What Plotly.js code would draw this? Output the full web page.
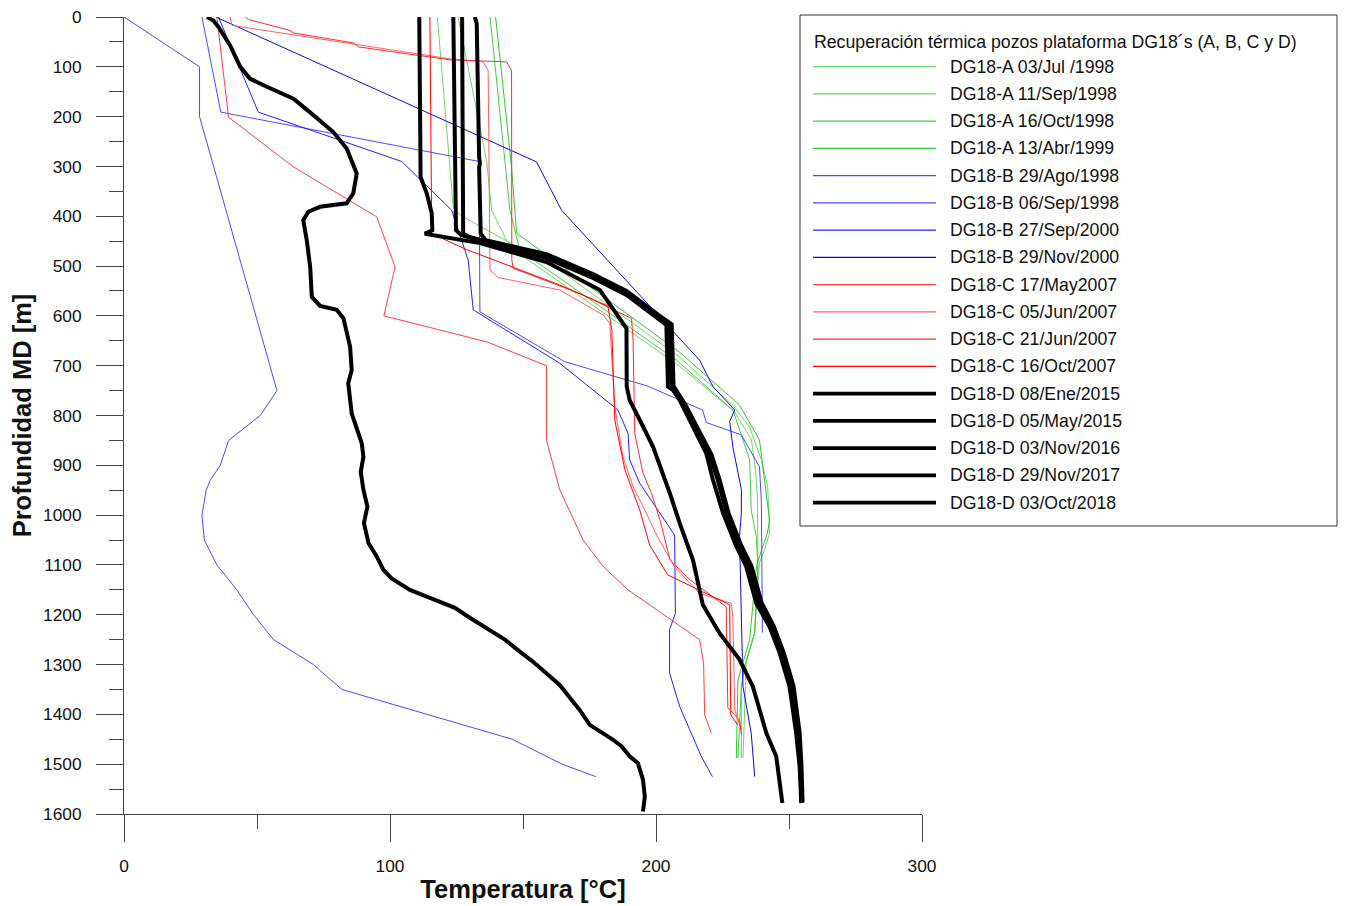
<!DOCTYPE html>
<html>
<head>
<meta charset="utf-8">
<script src="https://cdn.plot.ly/plotly-3.0.1.min.js"></script>
<style>html,body{margin:0;padding:0;background:#fff;}#chart{width:1345px;height:906px;}</style>
</head>
<body>
<div id="chart"></div>
<script>
// ---- Series names ----
const legendTitle = 'Recuperación térmica pozos plataforma DG18´s (A, B, C y D)';
const seriesNames = [
  "DG18-A 03/Jul /1998", "DG18-A 11/Sep/1998", "DG18-A 16/Oct/1998", "DG18-A 13/Abr/1999",
  "DG18-B 29/Ago/1998", "DG18-B 06/Sep/1998", "DG18-B 27/Sep/2000", "DG18-B 29/Nov/2000",
  "DG18-C 17/May2007", "DG18-C 05/Jun/2007", "DG18-C 21/Jun/2007", "DG18-C 16/Oct/2007",
  "DG18-D 08/Ene/2015", "DG18-D 05/May/2015", "DG18-D 03/Nov/2016", "DG18-D 29/Nov/2017", "DG18-D 03/Oct/2018"
];

// ---- DG18-A (temperature °C, depth m) ----
const A1_T = [117.8,123.8,127,163.8,208.9,228.8,235.2,239.6,242,242.7,240.8,238.9,237.1,233.3,232.1,232.1];
const A1_D = [0,384,400,508,683,779,823,889,943,1036,1070,1096,1236,1304,1345,1488];
const A2_T = [125.6,136.3,138.2,145.1,208.9,229.6,235.9,237.4,238.2,238.3,237.1,233.9,232.7];
const A2_D = [0,288,388,462,701,793,849,909,970,1103,1236,1297,1488];
const A3_T = [137.6,145.1,148.8,207.7,228.9,235.2,235.8,237.7,238.3,237.1,233.3,232.1,230.8];
const A3_D = [0,388,468,689,789,889,990,1043,1103,1236,1304,1345,1488];
const A4_T = [139.7,145.7,147.6,208.9,231.4,238.9,242.7,241.9,239.7,237.8,235.2,230.8,230.2];
const A4_D = [0,302,434,673,779,849,1010,1036,1070,1102,1250,1331,1488];

// ---- DG18-B ----
const B1_T = [0,28.4,28.4,57.5,51.2,39.3,36.2,32.4,30.9,29.3,30.2,34.9,42.4,48.7,56.2,71.2,81.9,146,164.7,177.4];
const B1_D = [0,100,200,750,800,850,900,930,950,1000,1050,1100,1150,1200,1250,1300,1350,1450,1500,1525];
const B2_T = [29.3,36.4,133.5,133.8,165.7,196.9,217.5,218.9,232.1,238.9,239.6,240];
const B2_D = [0,191,290,592,692,741,789,814,839,903,970,1236];
const B3_T = [35.5,50.5,104.4,123.2,129.4,131.3,163.8,185.7,189.5,190.1,193.9,197.6,207,207.3,205.1,205.1,208.9,217,221.2];
const B3_D = [0,191,290,388,488,588,695,789,836,889,936,966,1040,1197,1230,1317,1384,1484,1525];
const B4_T = [34.5,155.1,164.5,178.2,205.1,216.4,221.4,229.6,227.7,228.9,232.1,232.1,231.4,232.7,235.8,237.1];
const B4_D = [0,291,388,468,625,689,742,789,812,863,949,996,1043,1344,1438,1525];

// ---- DG18-C ----
const C1_T = [34.9,39.3,63.7,95,101.9,97.7,136.3,158.8,158.8,163.8,172.6,180.1,189.5,216.4,217.9,218.3,220.8];
const C1_D = [0,201,301,401,502,600,652,700,849,949,1050,1103,1150,1250,1297,1401,1438];
const C2_T = [39.9,40.6,72.5,122.5,135,136.9,137.6,140.7,163.8,180.1,182.6,184.5,187.6,191.4,195.8,200.6,207,216.4,228.3,228.9,229.6,232.1];
const C2_D = [0,17,43,84,90,107,508,523,548,598,615,782,883,943,990,1044,1104,1157,1177,1204,1391,1431];
const C3_T = [45.6,46.8,62.4,63.7,86.2,88.1,122.5,143.8,145.7,145.8,146.3,150.1,171.3,190.8,191.4,192,195.1,198.3,201.5,205.3,212.8,226.4,227,231.4,232.1];
const C3_D = [0,5,27,32,52,60,86,90,107,488,505,512,555,605,649,836,916,956,1010,1090,1130,1184,1387,1411,1441];
const C4_T = [115,115.7,128.8,163.8,181.9,183.4,184.5,188.3,193.9,197.6,204.4,223.9,227.7,228.1,230.7];
const C4_D = [0,435,467,538,580,629,809,909,990,1060,1120,1170,1180,1401,1421];

// ---- DG18-D ----
const D1_T = [31.2,33.6,35.5,37.4,39.9,43.7,47.4,53.7,63.7,71.2,78.7,83.7,87.5,86.2,83.7,73.7,69.3,67.4,68.7,70,70.6,73.7,80,82.5,85,85.6,84.3,85.6,89.4,90,89,90,91.5,90.2,91.9,95,97.5,100.6,107.5,115,124.4,130,137.5,143.2,148.8,153.7,159.3,163.8,168.3,171.3,175.1,180.1,183.9,187,190.1,193.2,195.1,195.8,195.1];
const D1_D = [0,7,20,37,57,100,124,140,164,197,231,264,314,354,374,381,391,408,448,502,562,580,588,605,662,709,735,796,856,883,913,949,983,1016,1056,1083,1110,1127,1150,1166,1186,1206,1230,1250,1274,1294,1320,1341,1371,1391,1421,1438,1451,1464,1484,1498,1531,1565,1595];
const D2_T = [111,111.5,113.8,115.7,115.9,113.1,133.8,158.8,178.9,188.9,189,190.1,193.9,198.9,205.2,208.9,213.9,217.6,223.9,231.4,236.4,241.5,245.2,246.5,247.5];
const D2_D = [0,321,354,394,428,435,454,492,548,625,742,769,809,863,956,1016,1090,1180,1237,1290,1344,1438,1484,1531,1578];
const D3_T = [123.8,124.8,126.9,158.8,176.3,188.9,201.4,203.9,204.5,206.4,208.9,213.9,218.9,221.4,225.2,230.2,233.9,237.7,242.7,246.5,250.2,252.7,254,254.6];
const D3_D = [0,428,438,484,524,558,608,618,742,749,769,823,876,929,996,1063,1103,1177,1224,1277,1344,1438,1505,1578];
const D4_T = [127.1,127.5,130,158.8,176.3,188.9,201.4,205.2,205.8,207.4,210.4,215.3,220.2,223.2,226.6,231.4,235.2,238.9,243.4,247.2,251,253.2,254.3,254.7];
const D4_D = [0,435,442,480,520,554,604,618,742,753,779,829,879,929,996,1062,1102,1176,1222,1276,1343,1437,1503,1577];
const D5_T = [131.9,132.6,133.5,133.8,133.5,134.1,136,158.8,176.3,188.9,201.4,205.9,206.6,208.1,211.1,216,220.9,223.9,227.3,232.1,235.9,239.7,244.2,248,251.7,254,254.7,255.1];
const D5_D = [0,13,281,294,301,435,448,476,516,550,600,617,741,753,779,829,879,929,996,1062,1102,1176,1222,1276,1343,1437,1503,1577];

const seriesT = [A1_T,A2_T,A3_T,A4_T,B1_T,B2_T,B3_T,B4_T,C1_T,C2_T,C3_T,C4_T,D1_T,D2_T,D3_T,D4_T,D5_T];
const seriesD = [A1_D,A2_D,A3_D,A4_D,B1_D,B2_D,B3_D,B4_D,C1_D,C2_D,C3_D,C4_D,D1_D,D2_D,D3_D,D4_D,D5_D];
const seriesColors = ['#6ad86a','#6ad86a','#44cc44','#33c433','#4a4aff','#4a4aff','#2020ff','#0a0ae0',
  '#ff4040','#ff6060','#ff2a2a','#ff0000','#000000','#000000','#000000','#000000','#000000'];
const seriesWidths = [1,1,1,1,1,1,1,1,1,1,1,1,4,4,4,4,4];

const FONT = 'Liberation Sans, Arial, sans-serif';
const traces = seriesNames.map((n,i)=>({
  type:'scatter', mode:'lines', name:n, x:seriesT[i], y:seriesD[i],
  line:{color:seriesColors[i], width:seriesWidths[i]}, hoverinfo:'skip', showlegend:false
}));

// ---- legend drawn as layout shapes / annotations (plot area: x 124..922 px, y 17..814 px) ----
const PL = 124, PW = 798, PB = 814, PH = 797;
const px = v => (v - PL) / PW;
const py = v => (PB - v) / PH;
const shapes = [{type:'rect', xref:'paper', yref:'paper', x0:px(800), x1:px(1337), y0:py(15), y1:py(526),
  line:{color:'#333', width:1}, fillcolor:'rgba(255,255,255,0)', layer:'above'}];
const annotations = [{xref:'paper', yref:'paper', x:px(812), y:py(42), xanchor:'left', yanchor:'middle',
  text:legendTitle, showarrow:false, font:{family:FONT, size:17.7, color:'#111'}}];
seriesNames.forEach((n,i)=>{
  const yy = 66.7 + i*27.25;
  shapes.push({type:'line', xref:'paper', yref:'paper', x0:px(813), x1:px(936), y0:py(yy), y1:py(yy),
    line:{color:seriesColors[i], width:seriesWidths[i]===1?1.2:3.8}});
  annotations.push({xref:'paper', yref:'paper', x:px(948), y:py(yy), xanchor:'left', yanchor:'middle',
    text:n, showarrow:false, font:{family:FONT, size:17.7, color:'#111'}});
});

const layout = {
  width:1345, height:906,
  margin:{l:124, r:423, t:17, b:92},
  paper_bgcolor:'#ffffff', plot_bgcolor:'#ffffff',
  font:{family:FONT, size:17.3, color:'#111'},
  showlegend:false,
  shapes:shapes, annotations:annotations,
  xaxis:{
    range:[0,300], dtick:100, tick0:0, showgrid:false, zeroline:false,
    showline:true, linecolor:'#444', linewidth:1,
    ticks:'outside', ticklen:27, tickcolor:'#444', tickwidth:1,
    minor:{dtick:50, ticklen:14, tickcolor:'#444', ticks:'outside', showgrid:false},
    ticklabelstandoff:9,
    tickfont:{family:FONT, size:17.3, color:'#111'},
    title:{text:'Temperatura [°C]', font:{family:FONT, size:25.5, color:'#111', weight:'bold'}, standoff:5}
  },
  yaxis:{
    range:[1600,0], dtick:100, tick0:0, showgrid:false, zeroline:false,
    showline:true, linecolor:'#444', linewidth:1,
    ticks:'outside', ticklen:27, tickcolor:'#444', tickwidth:1,
    minor:{dtick:50, ticklen:14, tickcolor:'#444', ticks:'outside', showgrid:false},
    ticklabelstandoff:11,
    tickfont:{family:FONT, size:17.3, color:'#111'},
    title:{text:'Profundidad MD [m]', font:{family:FONT, size:25.5, color:'#111', weight:'bold'}, standoff:4}
  }
};

Plotly.newPlot('chart', traces, layout, {displayModeBar:false, staticPlot:true});
</script>
</body>
</html>
